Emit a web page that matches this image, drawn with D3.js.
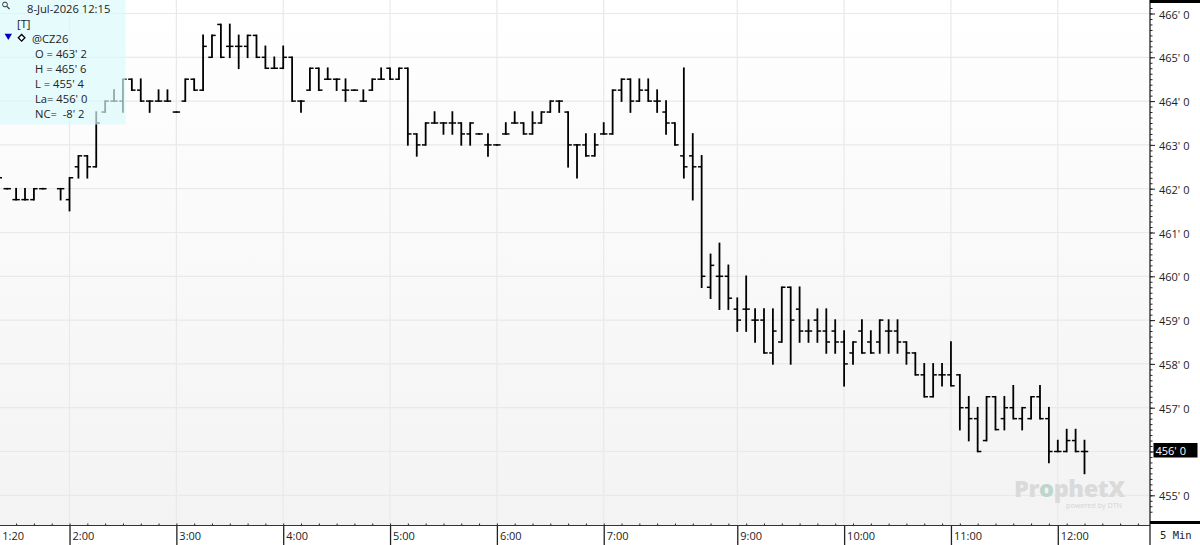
<!DOCTYPE html>
<html lang="en">
<head>
<meta charset="UTF-8">
<title>@CZ26 5 Min</title>
<style>
    html, body { margin: 0; padding: 0; background: #fff; overflow: hidden; }
    svg { display: block; }
    text { font-family: "Open Sans", sans-serif; fill: #222; }
    .axis path { display: none; }
    .axis line { stroke: #222; }
    .axis text { font-size: 11px; font-family: "Open Sans", sans-serif; fill: #222; }
    .info text { font-size: 11.2px; }
</style>
</head>
<body>
<script src="https://d3js.org/d3.v7.min.js"></script>
<script>
// five minute bars of @CZ26, first visible bar is 1:20, null = no bar there
const opens = [
    462.25,462,461.75,461.75,461.75,462,null,462,461.75,462.5,
    462.75,462.5,463.75,464,464,464.5,464.25,464,464,464,
    463.75,464,464.5,464.25,465,465.75,465.25,465.25,465.25,465.5,
    465,464.75,464.75,465,464,464.25,464.75,464.5,464.5,464.25,
    464.25,464,464.25,464.5,464.75,464.5,464.75,463.25,463,463.5,
    463.5,463.5,463.5,463.25,463.25,463,463,463.25,463.5,463.5,
    463.25,463.5,463.75,464,463.75,463,463,462.75,463.25,463.25,
    464.25,464.5,464,464.25,464,463.75,463.5,462.75,462.75,462.5,
    459.75,460,460,459.25,459.25,459,459,458.25,458.5,459.75,
    459.25,458.75,459,458.75,458.75,458.5,458.25,458.75,458.5,458.5,
    458.75,458.75,458.5,458.25,457.75,457.25,457.75,457.75,457.75,457,
    456.75,456.25,457.25,456.75,457,456.75,456.75,457.25,456.75,456,
    456,456.25,456
]
const highs = [
    462.25,462,462,462,462,462,null,462,462.25,462.75,
    462.75,463.75,464,464.25,464.5,464.5,464.5,464,464.25,464.25,
    463.75,464.5,464.5,465.5,465.5,465.75,465.75,465.5,465.5,465.5,
    465.25,465,465.25,465,464,464.75,464.75,464.75,464.5,464.5,
    464.25,464.25,464.5,464.75,464.75,464.75,464.75,463.25,463.5,463.75,
    463.5,463.75,463.5,463.5,463.25,463.25,463,463.5,463.75,463.5,
    463.75,463.75,464,464,463.75,463,463.25,463.25,463.5,464.25,
    464.5,464.5,464.5,464.5,464.25,464,463.5,464.75,463.25,462.75,
    460.5,460.75,460.25,459.5,460,459.25,459.25,459.25,459.75,459.75,
    459.75,459,459.25,459.25,459,458.75,458.5,459,458.75,459,
    459,459,458.5,458.25,458,458,458,458.5,457.75,457.25,
    457,457.25,457.25,457.25,457.5,457,457.25,457.5,457,456.25,
    456.5,456.5,456.25
]
const lows = [
    462.25,462,461.75,461.75,461.75,462,null,461.75,461.5,462.25,
    462.25,462.5,463.75,464,463.75,464.25,464,463.75,464,464,
    463.75,464,464.25,464.25,465,465,465,464.75,465,465,
    464.75,464.75,464.75,464,463.75,464.25,464.25,464.5,464.25,464,
    464.25,464,464.25,464.5,464.5,464.5,463,462.75,463,463.5,
    463.25,463.25,463,463,463.25,462.75,463,463.25,463.5,463.25,
    463.25,463.5,463.75,463.75,462.5,462.25,462.75,462.75,463.25,463.25,
    464,463.75,464,464,463.75,463.25,463,462.25,461.75,459.75,
    459.5,459.25,459.25,458.75,458.75,458.5,458.25,458,458.5,458,
    458.5,458.5,458.5,458.25,458.25,457.5,458,458.25,458.25,458.25,
    458.25,458.25,458,457.75,457.25,457.25,457.5,457.5,456.5,456.25,
    456,456.25,456.5,456.5,456.75,456.5,456.75,456.75,455.75,456,
    456,456,455.5
]
const closes = [
    462.25,462,461.75,461.75,462,462,null,462,462.25,462.75,
    462.5,463.5,464,464,464.5,464.25,464,464,464,464,
    463.75,464.5,464.25,465.25,465.5,465,465.25,465.25,465.5,465,
    464.75,464.75,465,464,464,464.75,464.25,464.5,464.5,464.25,
    464.25,464,464.5,464.5,464.5,464.75,463.25,463,463.5,463.5,
    463.5,463.5,463.25,463.5,463.25,463,463,463.25,463.5,463.25,
    463.5,463.75,464,464,463,463,462.75,463,463.25,464.25,
    464.5,464,464.25,464,464,463.5,463,462.5,462.5,460,
    460.25,460,459.5,459,459.25,459,458.25,458.75,459.75,459,
    458.75,458.75,458.75,458.5,458.5,458,458.5,458.25,458.25,459,
    458.75,458.5,458.25,457.75,457.25,457.75,457.75,457.5,457,456.75,
    456,457.25,456.5,457,456.75,457,457.25,456.75,456,456,
    456.25,456,456
]
// bar number of each labelled time
const timeBars = [0, 8, 20, 32, 44, 56, 68, 83, 95, 107, 119]
const timeLabels = ["1:20", "2:00", "3:00", "4:00", "5:00", "6:00", "7:00", "9:00", "10:00", "11:00", "12:00"]
const priceTicks = [466, 465, 464, 463, 462, 461, 460, 459, 458, 457, 456, 455]
const lastPrice = 456
const infoRows = ["O = 463' 2", "H = 465' 6", "L = 455' 4", "La= 456' 0", "NC=  -8' 2"]

const width = 1200, height = 545
const plotRight = 1150, plotBottom = 525.5

const x = d3.scaleLinear().domain([0, 122]).range([-1.7, 1084.5])
const y = d3.scaleLinear().domain([455, 466]).range([495.3, 13.5])
const fmt = v => Math.floor(v) + "' 0"

const svg = d3.select("body").append("svg")
    .attr("width", width).attr("height", height)

const grad = svg.append("defs").append("linearGradient")
    .attr("id", "plotbg").attr("x1", 0).attr("y1", 0).attr("x2", 0).attr("y2", 1)
grad.append("stop").attr("offset", "0%").attr("stop-color", "#ffffff")
grad.append("stop").attr("offset", "100%").attr("stop-color", "#f3f3f3")

svg.append("rect")
    .attr("width", plotRight).attr("height", plotBottom)
    .attr("fill", "url(#plotbg)")

// grid
svg.append("g").selectAll("line").data(priceTicks).enter().append("line")
    .attr("x1", 0).attr("x2", plotRight)
    .attr("y1", d => y(d)).attr("y2", d => y(d))
    .attr("stroke", "#e9e9e9").attr("stroke-width", 1.2)
svg.append("g").selectAll("line").data(timeBars.slice(1)).enter().append("line")
    .attr("x1", d => x(d)).attr("x2", d => x(d))
    .attr("y1", 0).attr("y2", plotBottom)
    .attr("stroke", "#e9e9e9").attr("stroke-width", 1.2)

// watermark
const mark = svg.append("text")
    .attr("x", 1014).attr("y", 497)
    .attr("font-size", 23.5).attr("font-weight", 800)
    .attr("letter-spacing", -0.4)
    .style("fill", "#dadada")
mark.append("tspan").text("Pr").style("fill", "#dadada")
mark.append("tspan").text("o").style("fill", "#bcd6cc")
mark.append("tspan").text("phetX").style("fill", "#dadada")
svg.append("text")
    .attr("x", 1066).attr("y", 508)
    .attr("font-size", 7.2)
    .style("fill", "#d4d4d4")
    .text("powered by DTN")

// bars
const bars = opens.map((o, i) => ({ i, o, h: highs[i], l: lows[i], c: closes[i] }))
    .filter(d => d.o !== null)
const barGroup = svg.append("g").attr("stroke", "#000")
const tickLen = 3.7
barGroup.selectAll("line.range").data(bars).enter().append("line")
    .attr("class", "range")
    .attr("x1", d => x(d.i)).attr("x2", d => x(d.i))
    .attr("y1", d => y(d.h) - 0.8).attr("y2", d => y(d.l) + 0.8)
    .attr("stroke-width", 1.8)
barGroup.selectAll("line.open").data(bars).enter().append("line")
    .attr("class", "open")
    .attr("x1", d => x(d.i) - tickLen).attr("x2", d => x(d.i))
    .attr("y1", d => y(d.o)).attr("y2", d => y(d.o))
    .attr("stroke-width", 1.5)
barGroup.selectAll("line.close").data(bars).enter().append("line")
    .attr("class", "close")
    .attr("x1", d => x(d.i)).attr("x2", d => x(d.i) + tickLen)
    .attr("y1", d => y(d.c)).attr("y2", d => y(d.c))
    .attr("stroke-width", 1.5)

// axes area
svg.append("rect")
    .attr("x", plotRight).attr("width", width - plotRight).attr("height", height)
    .attr("fill", "#fff")
svg.append("rect")
    .attr("y", plotBottom).attr("width", plotRight).attr("height", height - plotBottom)
    .attr("fill", "#fff")

// minor ticks on the price axis, one for every 1/8
const minorPrices = d3.range(454.625, 466.5, 0.125).filter(d => y(d) < plotBottom - 4 && y(d) > 3)
svg.append("g").attr("class", "axis")
    .attr("transform", `translate(${plotRight},0)`)
    .call(d3.axisRight(y).tickValues(minorPrices).tickSize(2.5).tickFormat(""))
    .selectAll("line").attr("stroke-width", 1)

// the last price has its own flag instead of an axis label
const priceAxis = svg.append("g").attr("class", "axis")
    .attr("transform", `translate(${plotRight},0)`)
    .call(d3.axisRight(y).tickValues(priceTicks).tickSize(5).tickPadding(4)
        .tickFormat(d => d === lastPrice ? "" : fmt(d)))
priceAxis.selectAll("text").attr("dy", "0.42em")

// minor ticks on the time axis, one for every two bars
const minorBars = d3.range(0, 130, 2).filter(d => x(d) < plotRight)
svg.append("g").attr("class", "axis")
    .attr("transform", `translate(0,${plotBottom})`)
    .call(d3.axisTop(x).tickValues(minorBars).tickSize(2).tickFormat(""))
    .selectAll("line").attr("stroke", "#aaa")

const timeAxis = svg.append("g").attr("class", "axis")
    .attr("transform", `translate(0,${plotBottom})`)
    .call(d3.axisBottom(x).tickValues(timeBars).tickSize(20)
        .tickFormat((d, i) => timeLabels[i]))
timeAxis.selectAll("line")
    .attr("stroke-width", 1.3)
    .attr("stroke", d => d === timeBars[0] ? "none" : "#333")
timeAxis.selectAll("text")
    .attr("text-anchor", "start")
    .attr("x", 2.5).attr("y", 7).attr("dy", "0.71em")
timeAxis.selectAll(".tick").filter(d => d === timeBars[0]).select("text").attr("x", 3.5)

svg.append("line")
    .attr("x1", 0).attr("x2", plotRight)
    .attr("y1", plotBottom).attr("y2", plotBottom)
    .attr("stroke", "#333").attr("stroke-width", 1.2)
svg.append("line")
    .attr("x1", plotRight).attr("x2", plotRight)
    .attr("y1", 0).attr("y2", height)
    .attr("stroke", "#222").attr("stroke-width", 1.3)
svg.append("rect")
    .attr("x", plotRight).attr("y", 0).attr("width", width - plotRight).attr("height", 3)
    .attr("fill", "#000")
svg.append("rect")
    .attr("x", plotRight).attr("y", 521).attr("width", width - plotRight).attr("height", 3)
    .attr("fill", "#000")
svg.append("text")
    .attr("x", 1160).attr("y", 539)
    .attr("font-size", 10.5)
    .style("font-family", "'DejaVu Sans Mono', monospace")
    .text("5 Min")

// last price flag
svg.append("rect")
    .attr("x", 1153.5).attr("y", y(lastPrice) - 8.5)
    .attr("width", 44).attr("height", 14.5)
    .attr("fill", "#000")
svg.append("text")
    .attr("x", 1155.5).attr("y", y(lastPrice) + 3.5)
    .attr("font-size", 11)
    .style("fill", "#fff")
    .text(fmt(lastPrice))

// info panel, see-through so that the bars stay visible under it
svg.append("rect")
    .attr("width", 125.5).attr("height", 124.5)
    .attr("fill", "#daf9fb").attr("fill-opacity", 0.68)

const info = svg.append("g").attr("class", "info")
info.append("circle")
    .attr("cx", 5).attr("cy", 4.5).attr("r", 2.4)
    .attr("fill", "none").attr("stroke", "#333").attr("stroke-width", 1)
info.append("line")
    .attr("x1", 6.8).attr("y1", 6.3).attr("x2", 9.5).attr("y2", 9)
    .attr("stroke", "#333").attr("stroke-width", 1.2)
info.append("text").attr("x", 27).attr("y", 12.5).text("8-Jul-2026 12:15")
info.append("text").attr("x", 17).attr("y", 27.5).text("[T]")
info.append("path")
    .attr("d", d3.symbol(d3.symbolTriangle, 24))
    .attr("transform", "translate(8.3,35.8) rotate(180)")
    .attr("fill", "#0000c8")
info.append("path")
    .attr("d", d3.symbol(d3.symbolSquare, 22))
    .attr("transform", "translate(21.6,37.8) rotate(45)")
    .attr("fill", "#fff").attr("stroke", "#000").attr("stroke-width", 1.3)
info.append("text").attr("x", 32).attr("y", 42.5).text("@CZ26")
info.selectAll("text.row").data(infoRows).enter().append("text")
    .attr("class", "row")
    .attr("x", 35).attr("y", (d, i) => 57.5 + i * 15.2)
    .attr("xml:space", "preserve")
    .text(d => d)
</script>
</body>
</html>
